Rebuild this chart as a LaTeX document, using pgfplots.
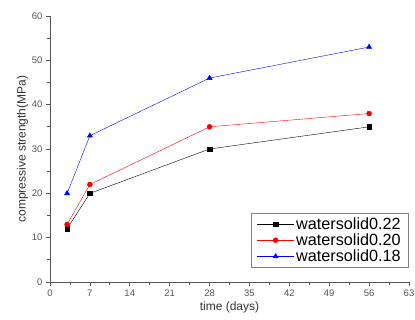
\documentclass[border=0pt]{standalone}
\usepackage{fontspec}
\setmainfont{Liberation Sans}
\usepackage{pgfplots}
\pgfplotsset{compat=1.18}
\usetikzlibrary{calc}
\definecolor{axgray}{HTML}{555555}
\begin{document}
\begin{tikzpicture}
\begin{axis}[
  scale only axis,
  width=359bp, height=266bp,
  xmin=0, xmax=63, ymin=0, ymax=60,
  axis lines*=left,
  axis line style={axgray, line width=0.8pt},
  tick style={axgray, line width=0.7pt},
  tick align=outside,
  major tick length=4bp,
  minor tick length=2.5bp,
  xtick={0,7,...,63},
  ytick={0,10,...,60},
  minor x tick num=1,
  minor y tick num=1,
  ticklabel style={font=\fontsize{9.5bp}{11bp}\selectfont, text=axgray},
  /pgf/number format/assume math mode=true,
  xlabel={time (days)},
  ylabel={compressive strength(MPa)},
  label style={font=\fontsize{12bp}{14bp}\selectfont, text=black!80},
  xlabel style={yshift=1bp},
  ylabel style={yshift=-3bp},
  legend cell align=left,
  legend style={at={(1.0,0.055)}, anchor=south east, draw=gray, line width=0.6pt,
    font=\fontsize{16.2bp}{18.5bp}\selectfont, inner xsep=6bp, inner ysep=2bp, row sep=-1bp},
  legend image code/.code={\draw[mark repeat=2,mark phase=2,#1] plot coordinates {(0cm,0cm) (0.65cm,0cm) (1.3cm,0cm)};},
]
\addplot[black, thin, mark=square*, mark size=2.2bp, mark options={solid}] coordinates {(3,12) (7,20) (28,30) (56,35)};
\addplot[red, thin, mark=*, mark size=2.5bp] coordinates {(3,13) (7,22) (28,35) (56,38)};
\addplot[blue, thin, mark=triangle*, mark size=3bp] coordinates {(3,20) (7,33) (28,46) (56,53)};
\legend{watersolid0.22, watersolid0.20, watersolid0.18}
\end{axis}
\pgfresetboundingbox
\path[use as bounding box] ($(current axis.south west)+(-50bp,-38bp)$) rectangle ($(current axis.north east)+(6bp,16bp)$);
\end{tikzpicture}
\end{document}
